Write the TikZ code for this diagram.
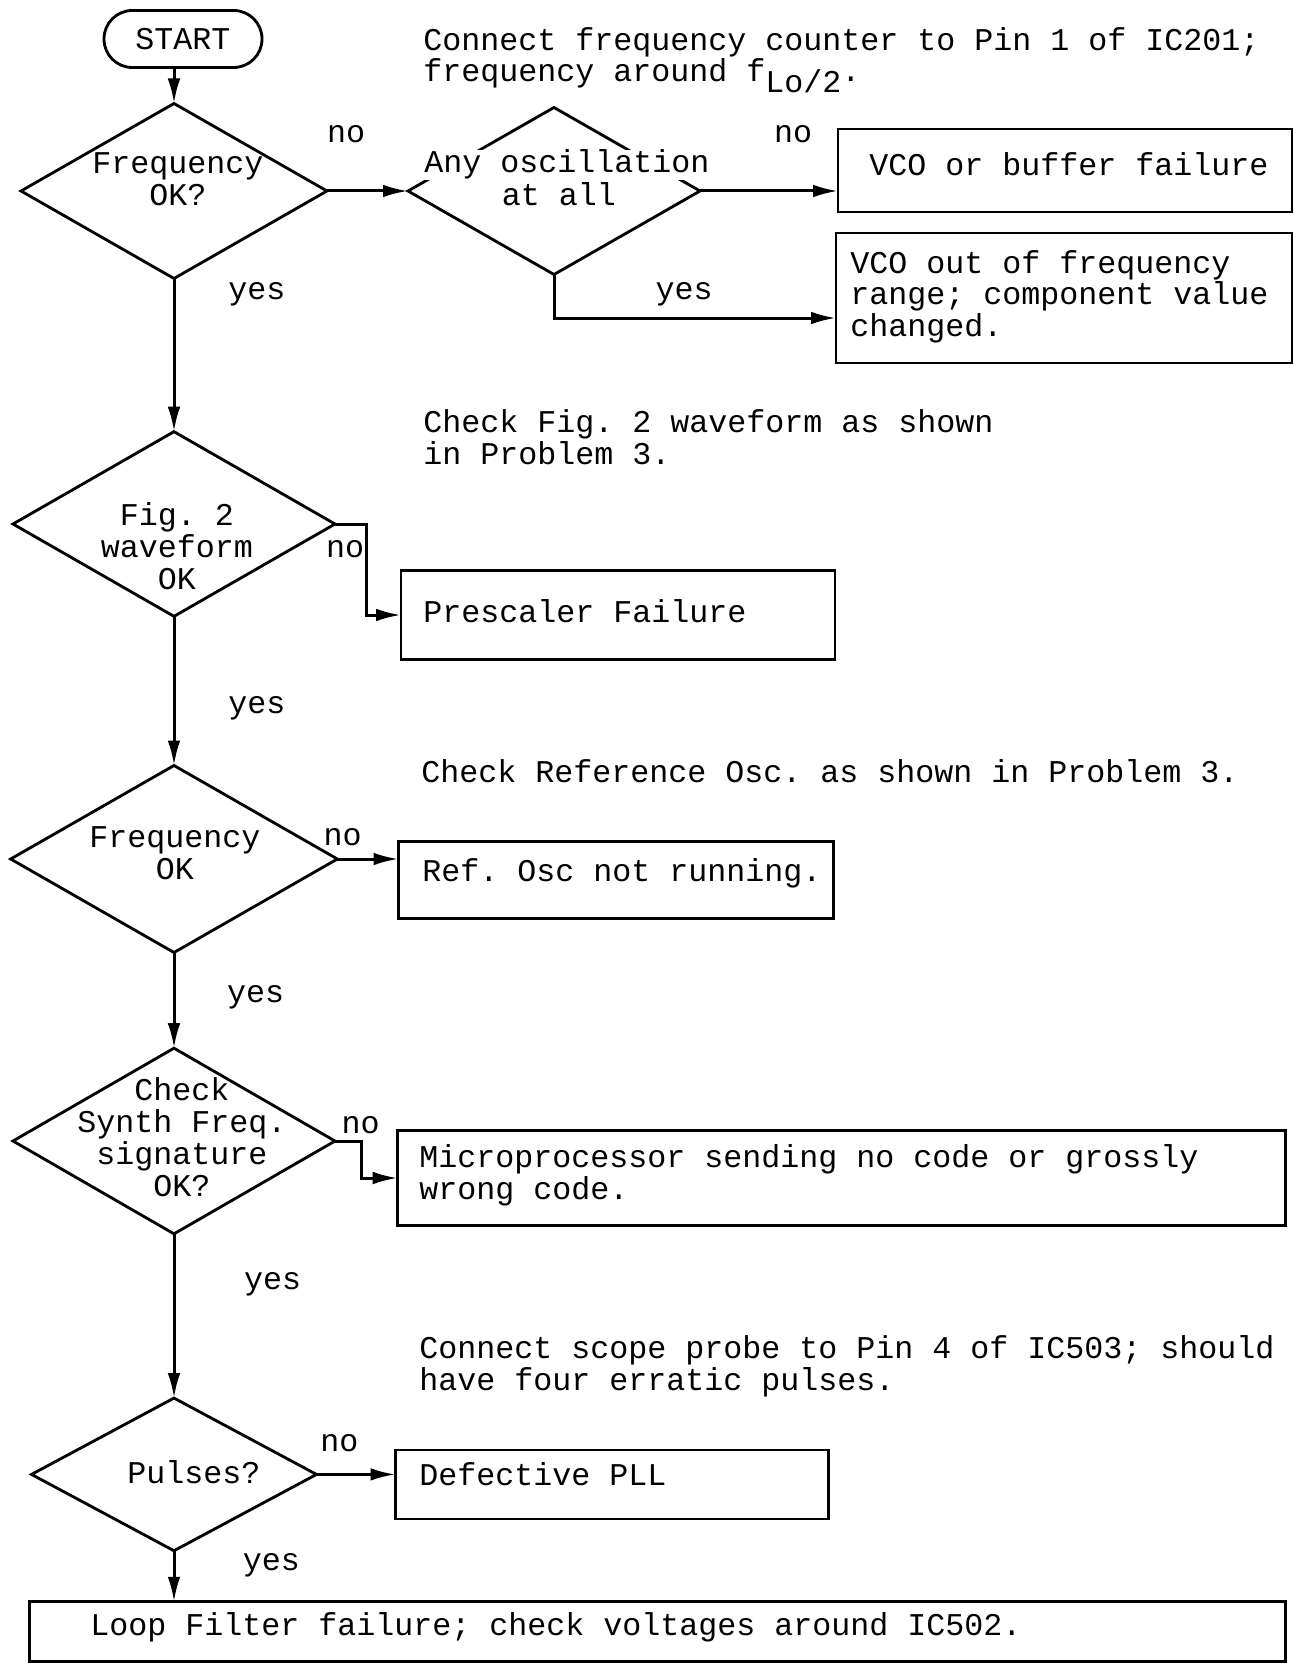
\documentclass[tikz,border=0pt]{standalone}
\usepackage{fontspec}
\newfontfamily\courfont{Liberation Mono}
\usetikzlibrary{shapes.geometric,arrows.meta}

\tikzset{every picture/.style={line width=0.85pt}}
\tikzset{
  decision/.style={draw, diamond, inner sep=0pt, outer sep=0pt},
  result/.style={draw, rectangle, inner sep=0pt, outer sep=0pt},
  startbox/.style={draw, rectangle, rounded corners=8.5pt, inner sep=0pt, outer sep=0pt,
    minimum width=47.4pt, minimum height=17.1pt},
  txt/.style={font=\courfont\fontsize{9.5pt}{9.54pt}\selectfont\frenchspacing, inner sep=0pt},
  flow/.style={line width=0.9pt, -{Latex[length=7.5pt,width=3.8pt]}},
}

\begin{document}
\begin{tikzpicture}[x=0.3pt,y=0.3pt,yscale=-1,xscale=1]
	\useasboundingbox (0,0) rectangle (1294,1663);
	
	%Shape: Start [id:start]
	\node[startbox, txt] (start) at (183,39) {START};
	%Shape: Diamond [id:d1]
	\node[decision, minimum width=91.8pt, minimum height=52.5pt] (d1) at (174,191) {};
	%Shape: Diamond [id:d2]
	\node[decision, minimum width=87.6pt, minimum height=50.1pt] (d2) at (554,191) {};
	%Shape: Rectangle [id:b1]
	\node[result, minimum width=136.2pt, minimum height=24.9pt] (b1) at (1065,170.5) {};
	%Shape: Rectangle [id:b2]
	\node[result, minimum width=136.8pt, minimum height=39pt] (b2) at (1064,298) {};
	\coordinate (b2in) at (836,318);
	%Shape: Diamond [id:d3]
	\node[decision, minimum width=96.6pt, minimum height=55.4pt] (d3) at (174,524) {};
	%Shape: Rectangle [id:b3]
	\node[result, minimum width=130.2pt, minimum height=26.7pt] (b3) at (618,615) {};
	%Shape: Diamond [id:d4]
	\node[decision, minimum width=98pt, minimum height=56.1pt] (d4) at (174,859) {};
	%Shape: Rectangle [id:b4]
	\node[result, minimum width=130.5pt, minimum height=23.3pt] (b4) at (616,880) {};
	%Shape: Diamond [id:d5]
	\node[decision, minimum width=96.6pt, minimum height=55.7pt] (d5) at (174,1141) {};
	%Shape: Rectangle [id:b5]
	\node[result, minimum width=266.4pt, minimum height=28.3pt] (b5) at (841.7,1178) {};
	%Shape: Diamond [id:d6]
	\node[decision, minimum width=85.5pt, minimum height=45.8pt] (d6) at (174,1474.4) {};
	%Shape: Rectangle [id:b6]
	\node[result, minimum width=129.9pt, minimum height=20.7pt] (b6) at (612,1484.5) {};
	%Shape: Rectangle [id:b7]
	\node[result, minimum width=376.8pt, minimum height=17.8pt] (b7) at (657.6,1631.4) {};
	
	%Straight Lines
	\draw[flow] (d1.north |- start.south) -- (d1.north);
	\draw[flow] (d1.east) -- (d2.west);
	\draw[flow] (d2.east) -- (d2.east -| b1.west);
	\draw[flow] (d2.south) |- (b2in);
	\draw[flow] (d1.south) -- (d3.north);
	\draw[flow] (d3.east) -- ++(31,0) |- (b3.west);
	\draw[flow] (d3.south) -- (d4.north);
	\draw[flow] (d4.east) -- (d4.east -| b4.west);
	\draw[flow] (d4.south) -- (d5.north);
	\draw[flow] (d5.east) -- ++(26,0) |- (b5.west);
	\draw[flow] (d5.south) -- (d6.north);
	\draw[flow] (d6.east) -- (d6.east -| b6.west);
	\draw[flow] (d6.south) -- (d6.south |- b7.north);
	
	% Text Node
	\node[txt, anchor=base west, align=left] (n1) at (422,82) {Connect frequency counter to Pin 1 of IC201;\\frequency around f\raisebox{-3.2pt}{Lo/2}.};
	% Text Node
	\node[txt, anchor=base, align=center] (t1) at (178,205) {Frequency\\OK?};
	% Text Node
	\node[txt, anchor=base, fill=white] (t2a) at (567,173) {Any oscillation};
	% Text Node
	\node[txt, anchor=base] (t2b) at (559,205) {at all};
	% Text Node
	\node[txt, anchor=base west] (tb1) at (868,175.5) {VCO or buffer failure};
	% Text Node
	\node[txt, anchor=base west, align=left] (tb2) at (849,336.6) {VCO out of frequency\\range; component value\\changed.};
	% Text Node
	\node[txt] (no1) at (346,134) {no};
	% Text Node
	\node[txt] (no2) at (793,134) {no};
	% Text Node
	\node[txt] (yes1) at (257,294) {yes};
	% Text Node
	\node[txt] (yes2) at (684,294) {yes};
	% Text Node
	\node[txt, anchor=base west, align=left] (n2) at (422,464) {Check Fig. 2 waveform as shown\\in Problem 3.};
	% Text Node
	\node[txt, anchor=base, align=center] (t3) at (177,589) {Fig. 2\\waveform\\OK};
	% Text Node
	\node[txt, anchor=base west] (tb3) at (422,622) {Prescaler Failure};
	% Text Node
	\node[txt] (no3) at (345,549.5) {no};
	% Text Node
	\node[txt] (yes3) at (257,708.5) {yes};
	% Text Node
	\node[txt, anchor=base west] (n3) at (420,782) {Check Reference Osc. as shown in Problem 3.};
	% Text Node
	\node[txt, anchor=base, align=center] (t4) at (175,879) {Frequency\\OK};
	% Text Node
	\node[txt, anchor=base west] (tb4) at (421,881) {Ref. Osc not running.};
	% Text Node
	\node[txt] (no4) at (342.6,837) {no};
	% Text Node
	\node[txt] (yes4) at (255.6,997) {yes};
	% Text Node
	\node[txt, anchor=base, align=center] (t5) at (182,1196) {Check\\Synth Freq.\\signature\\OK?};
	% Text Node
	\node[txt, anchor=base west, align=left] (tb5) at (418,1199) {Microprocessor sending no code or grossly\\wrong code.};
	% Text Node
	\node[txt] (no5) at (360.6,1125.4) {no};
	% Text Node
	\node[txt] (yes5) at (272.6,1284.5) {yes};
	% Text Node
	\node[txt, anchor=base west, align=left] (n4) at (418,1390) {Connect scope probe to Pin 4 of IC503; should\\have four erratic pulses.};
	% Text Node
	\node[txt, anchor=base] (t6) at (194,1483) {Pulses?};
	% Text Node
	\node[txt, anchor=base west] (tb6) at (418,1485.5) {Defective PLL};
	% Text Node
	\node[txt] (no6) at (339.4,1443.6) {no};
	% Text Node
	\node[txt] (yes6) at (271.5,1565.6) {yes};
	% Text Node
	\node[txt, anchor=base west] (tb7) at (89,1635) {Loop Filter failure; check voltages around IC502.};
	
\end{tikzpicture}
\end{document}
